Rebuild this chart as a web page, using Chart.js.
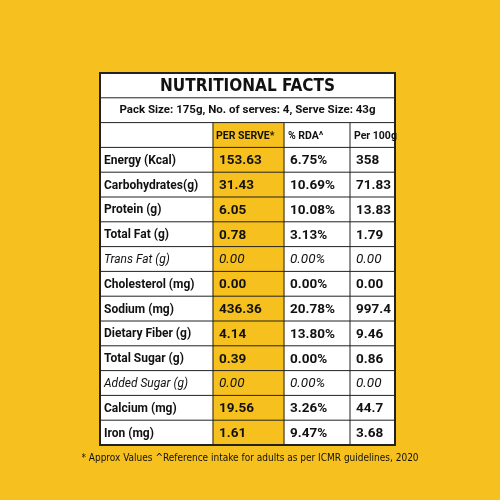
<!DOCTYPE html>
<html>
<head>
<script src="https://cdn.jsdelivr.net/npm/chart.js@4"></script>
<style>body{margin:0;background:#F6C11F}</style>
</head>
<body>
<canvas id="c" width="500" height="500"></canvas>
<script>
const title = 'NUTRITIONAL FACTS';
const packLine = 'Pack Size: 175g, No. of serves: 4, Serve Size: 43g';
const headers = ['', 'PER SERVE*', '% RDA^', 'Per 100g'];
const rows = ['Energy (Kcal)', 'Carbohydrates(g)', 'Protein (g)', 'Total Fat (g)', 'Trans Fat (g)', 'Cholesterol (mg)',
  'Sodium (mg)', 'Dietary Fiber (g)', 'Total Sugar (g)', 'Added Sugar (g)', 'Calcium (mg)', 'Iron (mg)'];
const perServe = ['153.63', '31.43', '6.05', '0.78', '0.00', '0.00', '436.36', '4.14', '0.39', '0.00', '19.56', '1.61'];
const rda = ['6.75%', '10.69%', '10.08%', '3.13%', '0.00%', '0.00%', '20.78%', '13.80%', '0.00%', '0.00%', '3.26%', '9.47%'];
const per100 = ['358', '71.83', '13.83', '1.79', '0.00', '0.00', '997.4', '9.46', '0.86', '0.00', '44.7', '3.68'];
const italicRows = ['Trans Fat (g)', 'Added Sugar (g)'];
const colEdges = [0, 113, 184, 250, 295];
const footnote = '* Approx Values ^Reference intake for adults as per ICMR guidelines, 2020';

const labels = ['title', 'pack', 'head'].concat(rows);
// yellow per-serve column from the header row down
const highlight = labels.map((l, i) => i >= 2 ? [colEdges[1], colEdges[2]] : null);

const tablePlugin = {
  id: 'table',
  beforeDraw(chart) {
    const ctx = chart.ctx, a = chart.chartArea;
    ctx.save();
    ctx.fillStyle = '#F6C11F';
    ctx.fillRect(0, 0, chart.width, chart.height);
    ctx.fillStyle = '#fff';
    ctx.fillRect(a.left, a.top, a.right - a.left, a.bottom - a.top);
    ctx.restore();
  },
  afterDatasetsDraw(chart) {
    const ctx = chart.ctx, a = chart.chartArea;
    const x = chart.scales.x, y = chart.scales.y;
    const step = y.getPixelForValue(1) - y.getPixelForValue(0);
    const top = i => y.getPixelForValue(i) - step / 2;
    const mid = i => y.getPixelForValue(i);
    ctx.save();
    ctx.strokeStyle = '#222';
    ctx.lineWidth = 1;
    for (let i = 1; i < labels.length; i++) {
      ctx.beginPath(); ctx.moveTo(a.left, top(i)); ctx.lineTo(a.right, top(i)); ctx.stroke();
    }
    for (let c = 1; c < colEdges.length - 1; c++) {
      const px = x.getPixelForValue(colEdges[c]);
      ctx.beginPath(); ctx.moveTo(px, top(2)); ctx.lineTo(px, a.bottom); ctx.stroke();
    }
    ctx.lineWidth = 2;
    ctx.strokeRect(a.left, a.top, a.right - a.left, a.bottom - a.top);

    ctx.fillStyle = '#111';
    ctx.textBaseline = 'middle';
    ctx.textAlign = 'center';
    const cx = (a.left + a.right) / 2;
    ctx.font = 'bold 17px "DejaVu Sans Condensed", sans-serif';
    ctx.fillText(title, cx, mid(0) + 1);
    ctx.font = 'bold 11.5px Roboto, sans-serif';
    ctx.fillText(packLine, cx, mid(1));
    ctx.font = 'bold 10.5px Roboto, sans-serif';
    ctx.textAlign = 'left';
    [3, 4, 4].forEach((off, k) => {
      ctx.fillText(headers[k + 1], x.getPixelForValue(colEdges[k + 1]) + off, mid(2) + 1);
    });
    rows.forEach((r, i) => {
      const it = italicRows.includes(r);
      const ym = mid(i + 3) + 1;
      ctx.font = (it ? 'italic ' : 'bold ') + '12px Roboto, sans-serif';
      ctx.fillText(r, a.left + 4, ym);
      ctx.font = (it ? 'italic ' : 'bold ') + '13.5px Roboto, sans-serif';
      [perServe[i], rda[i], per100[i]].forEach((v, c) => {
        ctx.fillText(v, x.getPixelForValue(colEdges[c + 1]) + 6, ym);
      });
    });
    ctx.font = '10px "Liberation Sans Narrow", "DejaVu Sans Condensed", sans-serif';
    ctx.textAlign = 'center';
    ctx.fillText(footnote, chart.width / 2, a.bottom + 13);
    ctx.restore();
  }
};

new Chart(document.getElementById('c'), {
  type: 'bar',
  data: {
    labels: labels,
    datasets: [{
      data: highlight,
      backgroundColor: '#F6C11F',
      borderWidth: 0,
      barPercentage: 1,
      categoryPercentage: 1
    }]
  },
  options: {
    indexAxis: 'y',
    responsive: false,
    animation: false,
    layout: { padding: { left: 100, right: 105, top: 73, bottom: 55 } },
    scales: {
      x: { type: 'linear', min: colEdges[0], max: colEdges[colEdges.length - 1], display: false },
      y: { display: false }
    },
    plugins: { legend: { display: false }, tooltip: { enabled: false } }
  },
  plugins: [tablePlugin]
});
</script>
</body>
</html>
